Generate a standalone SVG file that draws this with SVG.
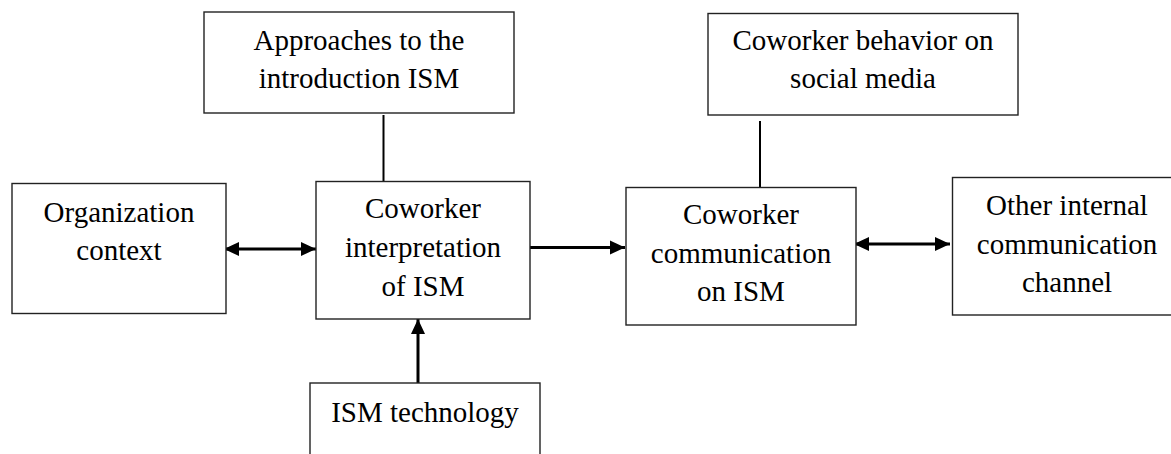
<svg xmlns="http://www.w3.org/2000/svg" width="1171" height="454" viewBox="0 0 1171 454">
<style>
.box{fill:#fff;stroke:#222;stroke-width:1.4}
.t{font-family:'Liberation Serif','Times New Roman',Times,'Nimbus Roman','DejaVu Serif',serif;font-size:29px;fill:#000;text-anchor:middle}
.c{stroke:#000;stroke-width:3;fill:none}
.thin{stroke:#000;stroke-width:2;fill:none}
</style>
<defs>
<marker id="ah" markerUnits="userSpaceOnUse" markerWidth="16" markerHeight="16" viewBox="0 0 16 16" refX="15" refY="8" orient="auto-start-reverse">
<path d="M0,1 L15,8 L0,15 Z" fill="#000"/>
</marker>
</defs>
<g id="connectors">
<line class="thin" x1="383.5" y1="115" x2="383.5" y2="181"/>
<line class="thin" x1="760" y1="121" x2="760" y2="187"/>
<line class="c" x1="224" y1="249" x2="316" y2="249" marker-start="url(#ah)" marker-end="url(#ah)"/>
<line class="c" x1="530" y1="247.5" x2="625" y2="247.5" marker-end="url(#ah)"/>
<line class="c" x1="418" y1="383" x2="418" y2="319" marker-end="url(#ah)"/>
<line class="c" x1="854" y1="244" x2="950" y2="244" marker-start="url(#ah)" marker-end="url(#ah)"/>
</g>
<g id="approaches">
<rect class="box" x="204" y="12" width="310" height="101"/>
<text class="t" x="359" y="50" font-family="Liberation Serif">Approaches to the</text>
<text class="t" x="359" y="88" font-family="Liberation Serif">introduction ISM</text>
</g>
<g id="organization">
<rect class="box" x="12" y="183.5" width="214" height="130"/>
<text class="t" x="119" y="221.5">Organization</text>
<text class="t" x="119" y="260">context</text>
</g>
<g id="interpretation">
<rect class="box" x="316" y="181.5" width="214" height="137.5"/>
<text class="t" x="423" y="218">Coworker</text>
<text class="t" x="423" y="257">interpretation</text>
<text class="t" x="423" y="296">of ISM</text>
</g>
<g id="technology">
<rect class="box" x="310" y="383" width="230" height="90"/>
<text class="t" x="425" y="421.5">ISM technology</text>
</g>
<g id="communication">
<rect class="box" x="626" y="187.5" width="230" height="137.5"/>
<text class="t" x="741" y="224">Coworker</text>
<text class="t" x="741" y="263">communication</text>
<text class="t" x="741" y="301">on ISM</text>
</g>
<g id="behavior">
<rect class="box" x="708" y="13.5" width="310" height="101.5"/>
<text class="t" x="863" y="50">Coworker behavior on</text>
<text class="t" x="863" y="88">social media</text>
</g>
<g id="other">
<rect class="box" x="952.5" y="177.5" width="240" height="137.5"/>
<text class="t" x="1067" y="215">Other internal</text>
<text class="t" x="1067" y="253.5">communication</text>
<text class="t" x="1067" y="292">channel</text>
</g>
</svg>
